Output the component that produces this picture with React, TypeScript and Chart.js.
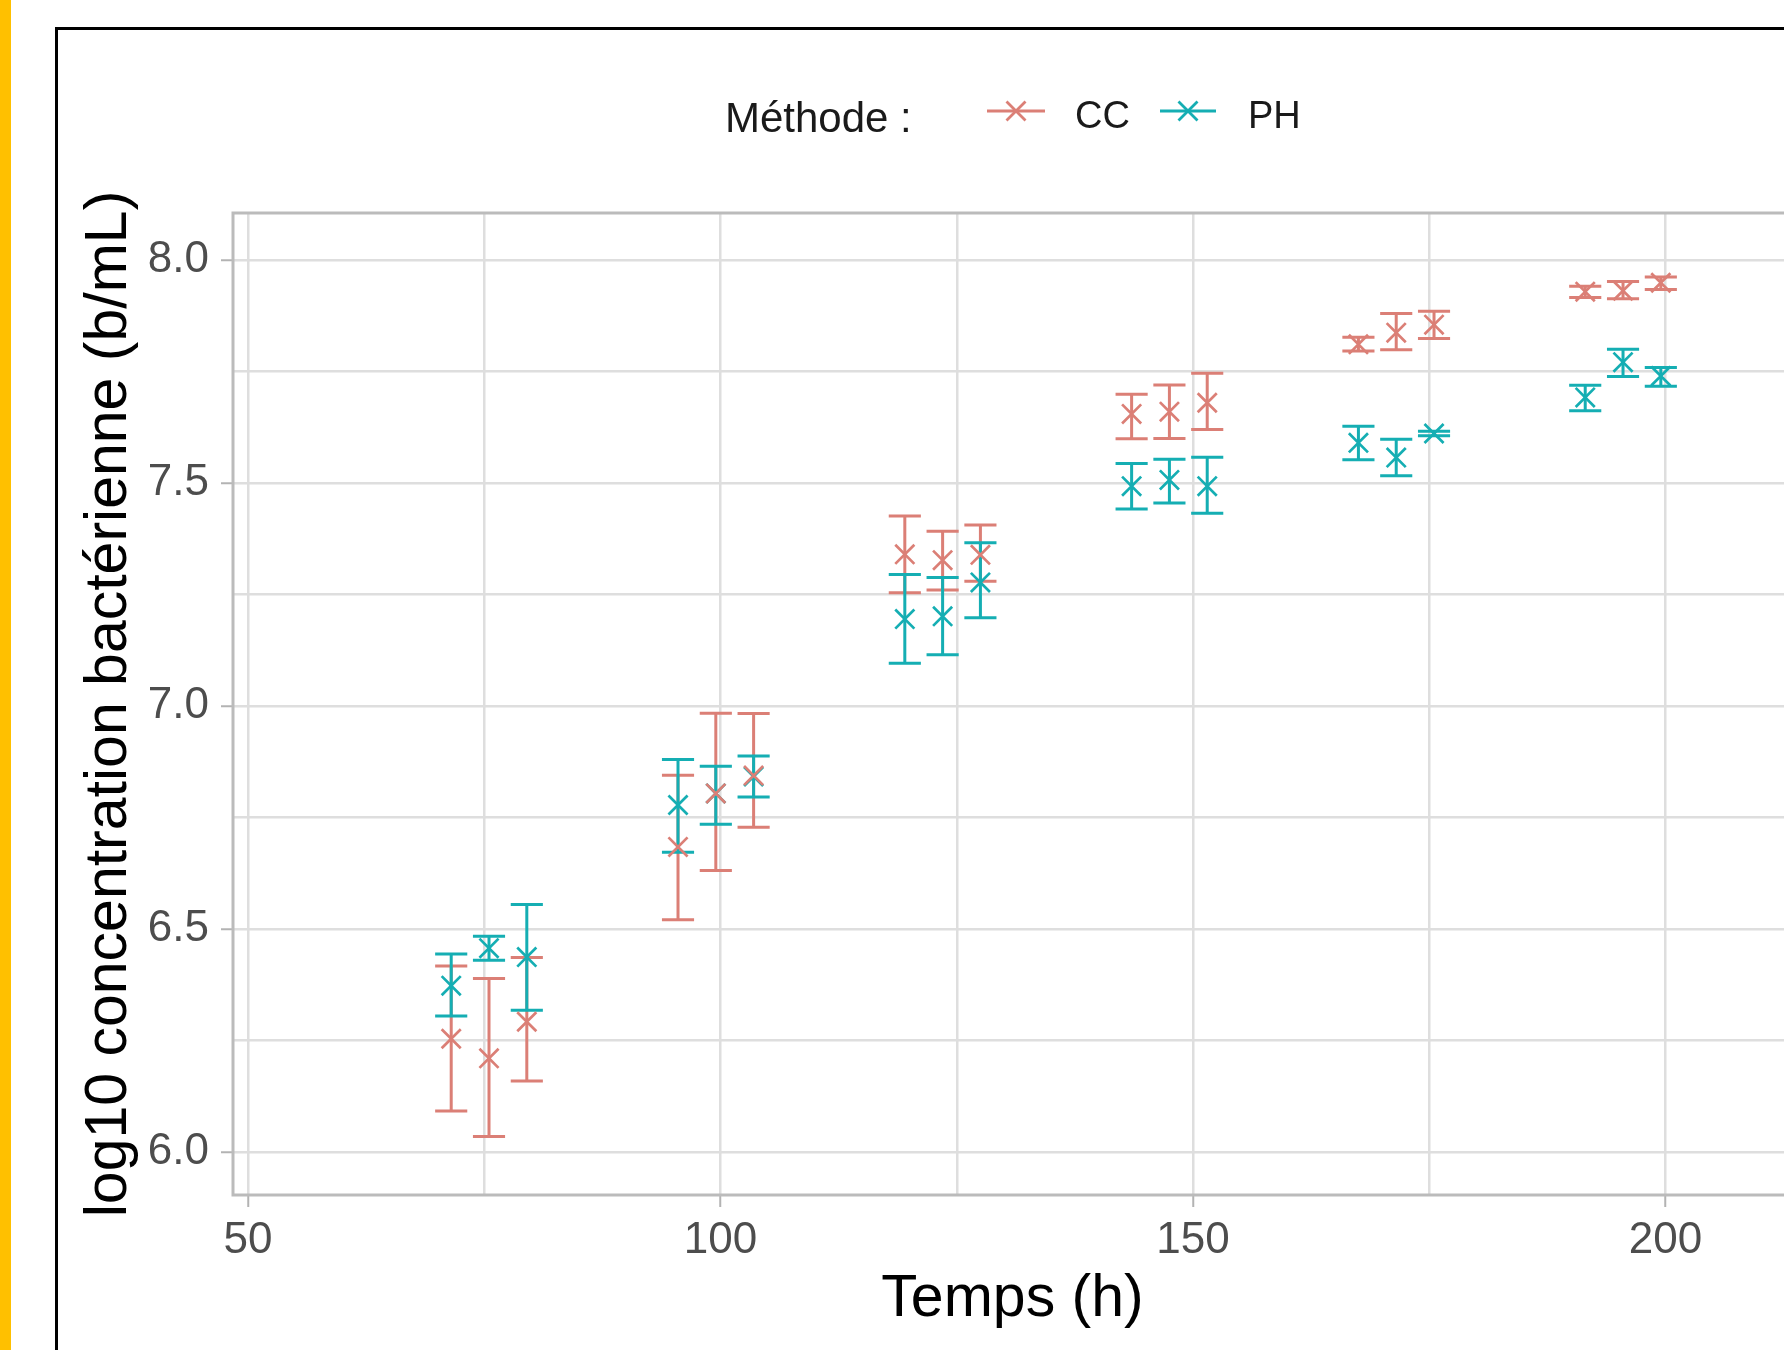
import React, { useEffect, useRef } from 'react';
import { Chart, registerables } from 'chart.js';

Chart.register(...registerables);

// ---- data ----
const times = [71.5, 75.5, 79.5, 95.5, 99.5, 103.5, 119.5, 123.5, 127.5, 143.5, 147.5, 151.5, 167.5, 171.5, 175.5, 191.5, 195.5, 199.5];

const ccMean = [6.254, 6.21, 6.292, 6.684, 6.804, 6.844, 7.34, 7.327, 7.339, 7.655, 7.66, 7.68, 7.811, 7.837, 7.855, 7.929, 7.931, 7.949];
const ccLow = [6.092, 6.035, 6.159, 6.521, 6.631, 6.728, 7.254, 7.26, 7.28, 7.599, 7.6, 7.62, 7.796, 7.799, 7.824, 7.916, 7.913, 7.934];
const ccHigh = [6.417, 6.389, 6.436, 6.845, 6.984, 6.983, 7.426, 7.392, 7.406, 7.699, 7.72, 7.746, 7.827, 7.88, 7.885, 7.941, 7.952, 7.962];

const phMean = [6.373, 6.457, 6.437, 6.778, 6.804, 6.842, 7.195, 7.201, 7.277, 7.493, 7.507, 7.493, 7.59, 7.557, 7.611, 7.692, 7.771, 7.74];
const phLow = [6.305, 6.43, 6.318, 6.672, 6.735, 6.796, 7.096, 7.115, 7.198, 7.442, 7.455, 7.432, 7.552, 7.516, 7.606, 7.662, 7.739, 7.717];
const phHigh = [6.444, 6.484, 6.555, 6.88, 6.865, 6.888, 7.295, 7.288, 7.366, 7.544, 7.553, 7.558, 7.627, 7.598, 7.616, 7.719, 7.8, 7.759];

const seriesNames = ['CC', 'PH'];
const seriesColors = ['#DB7F76', '#15AEB3'];
const seriesMeans = [ccMean, phMean];
const seriesLows = [ccLow, phLow];
const seriesHighs = [ccHigh, phHigh];

const xTickValues = [50, 75, 100, 125, 150, 175, 200];
const xLabeledTicks = [50, 100, 150, 200];
const yTickValues = [6.0, 6.25, 6.5, 6.75, 7.0, 7.25, 7.5, 7.75, 8.0];
const yLabeledTicks = [6.0, 6.5, 7.0, 7.5, 8.0];

const legendTitle = 'Méthode :';
const xTitle = 'Temps (h)';
const yTitle = 'log10 concentration bactérienne (b/mL)';

const PLOT_RIGHT = 1792;
const X_MIN = 48.41;
const X_MAX = 213.38;
const Y_MIN = 5.9036;
const Y_MAX = 8.1054;
const CAP_HALF = 1.7; // half width of error-bar caps, in x units

const FONT = '"Liberation Sans", Arial, Helvetica, sans-serif';
const CANVAS_W = 1810;
const CANVAS_H = 1350;

const errorBarPlugin = {
  id: 'errorBars',
  beforeDatasetsDraw(chart: any) {
    const { ctx, chartArea, scales } = chart;
    const xs = scales.x;
    const ys = scales.y;
    ctx.save();
    ctx.beginPath();
    ctx.rect(chartArea.left, chartArea.top, chartArea.right - chartArea.left, chartArea.bottom - chartArea.top);
    ctx.clip();
    seriesNames.forEach((_, s) => {
      ctx.strokeStyle = seriesColors[s];
      ctx.lineWidth = 3;
      ctx.lineCap = 'butt';
      times.forEach((t, i) => {
        const px = xs.getPixelForValue(t);
        const l = xs.getPixelForValue(t - CAP_HALF);
        const r = xs.getPixelForValue(t + CAP_HALF);
        const yl = ys.getPixelForValue(seriesLows[s][i]);
        const yh = ys.getPixelForValue(seriesHighs[s][i]);
        ctx.beginPath();
        ctx.moveTo(px, yl);
        ctx.lineTo(px, yh);
        ctx.moveTo(l, yl);
        ctx.lineTo(r, yl);
        ctx.moveTo(l, yh);
        ctx.lineTo(r, yh);
        ctx.stroke();
      });
    });
    ctx.restore();
  },
};

function drawCross(ctx: CanvasRenderingContext2D, x: number, y: number, h: number) {
  ctx.beginPath();
  ctx.moveTo(x - h, y - h);
  ctx.lineTo(x + h, y + h);
  ctx.moveTo(x + h, y - h);
  ctx.lineTo(x - h, y + h);
  ctx.stroke();
}

const framePlugin = {
  id: 'panelAndLegend',
  afterDraw(chart: any) {
    const { ctx, chartArea } = chart;
    ctx.save();
    // panel border
    ctx.strokeStyle = '#BBBBBB';
    ctx.lineWidth = 3;
    ctx.strokeRect(chartArea.left, chartArea.top, chartArea.right - chartArea.left, chartArea.bottom - chartArea.top);

    // legend
    ctx.fillStyle = '#1A1A1A';
    ctx.textBaseline = 'alphabetic';
    ctx.textAlign = 'left';
    ctx.font = `42px ${FONT}`;
    ctx.fillText(legendTitle, 725, 132);

    const items = [
      { x0: 987, x1: 1045, tx: 1075 },
      { x0: 1160, x1: 1216, tx: 1248 },
    ];
    ctx.font = `38px ${FONT}`;
    items.forEach((it, s) => {
      const ly = 111;
      ctx.strokeStyle = seriesColors[s];
      ctx.lineWidth = 2.8;
      ctx.beginPath();
      ctx.moveTo(it.x0, ly);
      ctx.lineTo(it.x1, ly);
      ctx.stroke();
      drawCross(ctx, (it.x0 + it.x1) / 2, ly, 9.5);
      ctx.fillStyle = '#1A1A1A';
      ctx.fillText(seriesNames[s], it.tx, 128);
    });
    ctx.restore();
  },
};

export default function App() {
  const canvasRef = useRef<HTMLCanvasElement | null>(null);

  useEffect(() => {
    const canvas = canvasRef.current;
    if (!canvas) return;
    const datasets = seriesNames.map((name, s) => ({
      label: name,
      data: times.map((t, i) => ({ x: t, y: seriesMeans[s][i] })),
      showLine: false,
      pointStyle: 'crossRot',
      pointRadius: 13.5,
      pointHoverRadius: 13.5,
      pointBorderWidth: 2.7,
      pointBorderColor: seriesColors[s],
      pointBackgroundColor: 'rgba(0,0,0,0)',
    }));

    const chart = new Chart(canvas, {
      type: 'scatter',
      data: { datasets },
      plugins: [errorBarPlugin, framePlugin],
      options: {
        animation: false,
        responsive: false,
        devicePixelRatio: 1,
        layout: { padding: { left: 0, top: 213, right: CANVAS_W - PLOT_RIGHT, bottom: 0 } },
        plugins: {
          legend: { display: false },
          tooltip: { enabled: false },
          title: { display: false },
        },
        scales: {
          x: {
            type: 'linear',
            min: X_MIN,
            max: X_MAX,
            afterBuildTicks: (scale: any) => {
              scale.ticks = xTickValues.map((v) => ({ value: v }));
            },
            afterFit: (scale: any) => {
              scale.height = CANVAS_H - 1195;
            },
            border: { display: false },
            grid: {
              color: '#DEDEDE',
              lineWidth: 2.5,
              drawTicks: true,
              tickLength: 12,
              tickWidth: 2,
              tickColor: (c: any) =>
                c.tick && xLabeledTicks.includes(c.tick.value) ? '#B3B3B3' : 'rgba(0,0,0,0)',
            },
            ticks: {
              autoSkip: false,
              maxRotation: 0,
              padding: 7,
              color: '#4D4D4D',
              font: { family: FONT, size: 44 },
              callback: (v: any) => (xLabeledTicks.includes(v) ? String(v) : ''),
            },
            title: {
              display: true,
              text: xTitle,
              color: '#000000',
              font: { family: FONT, size: 59 },
              padding: { top: 0, bottom: 15 },
            },
          },
          y: {
            type: 'linear',
            min: Y_MIN,
            max: Y_MAX,
            afterBuildTicks: (scale: any) => {
              scale.ticks = yTickValues.map((v) => ({ value: v }));
            },
            afterFit: (scale: any) => {
              scale.width = 233;
            },
            border: { display: false },
            grid: {
              color: '#DEDEDE',
              lineWidth: 2.5,
              drawTicks: true,
              tickLength: 12,
              tickWidth: 2,
              tickColor: (c: any) =>
                c.tick && yLabeledTicks.includes(c.tick.value) ? '#B3B3B3' : 'rgba(0,0,0,0)',
            },
            ticks: {
              autoSkip: false,
              padding: 12,
              color: '#4D4D4D',
              font: { family: FONT, size: 44 },
              callback: (v: any) => (yLabeledTicks.includes(v) ? Number(v).toFixed(1) : ''),
            },
            title: {
              display: true,
              text: yTitle,
              color: '#000000',
              font: { family: FONT, size: 59 },
              padding: { top: 74, bottom: 0 },
            },
          },
        },
      } as any,
    });
    return () => chart.destroy();
  }, []);

  return (
    <div
      style={{
        position: 'fixed',
        left: 0,
        top: 0,
        width: 1784,
        height: 1350,
        overflow: 'hidden',
        background: '#FFFFFF',
      }}
    >
      <div style={{ position: 'absolute', left: 0, top: 0, width: 11, height: 1350, background: '#FFC000' }} />
      <div
        style={{
          position: 'absolute',
          left: 55,
          top: 27,
          width: 2000,
          height: 2000,
          borderLeft: '3px solid #000000',
          borderTop: '3px solid #000000',
        }}
      />
      <canvas
        ref={canvasRef}
        width={CANVAS_W}
        height={CANVAS_H}
        style={{ position: 'absolute', left: 0, top: 0, width: CANVAS_W, height: CANVAS_H }}
      />
    </div>
  );
}
